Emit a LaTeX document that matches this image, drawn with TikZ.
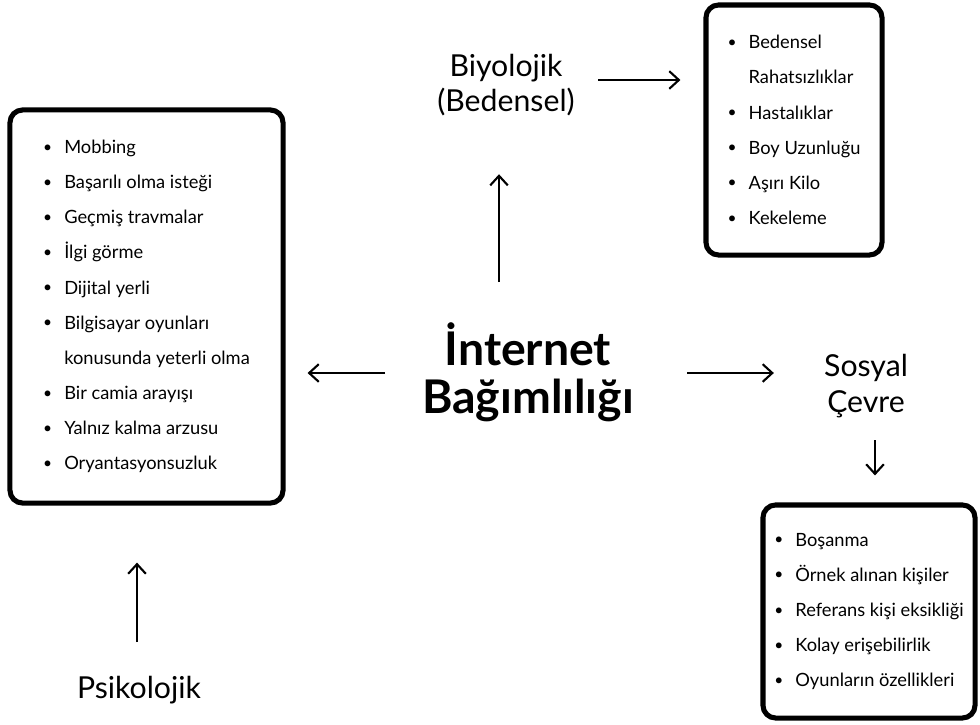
\documentclass[tikz,border=0pt]{standalone}
\usepackage{fontspec}
\setmainfont{Lato}
\usetikzlibrary{arrows.meta,positioning}
\tikzset{
    listbox/.style={
        draw,
        line width=3.6pt,
        rounded corners=9pt,
        align=left,
        font=\fontsize{13}{25}\selectfont,
        inner sep=0pt
    },
    headtext/.style={
        align=center,
        inner sep=0pt,
        font=\fontsize{21.5}{25}\selectfont
    },
    titletext/.style={
        align=center,
        inner sep=0pt,
        font=\fontsize{33}{34}\selectfont\bfseries
    },
    flow/.style={
        -{Straight Barb[length=2.4mm,width=4.4mm]},
        line width=1.5pt
    }
}
\newcommand{\itm}{\makebox[15pt][l]{\raisebox{0.08em}{\scalebox{0.85}{\textbullet}}}}
\newcommand{\cnt}{\hspace*{15pt}}
\begin{document}
\begin{tikzpicture}[x=0.025cm, y=-0.025cm]
        \useasboundingbox (0,0) rectangle (980,724);

        % center
        \node[titletext] (title) at (528,372) {İnternet\\Bağımlılığı};

        % groups
        \node[headtext] (bio) at (506,85) {Biyolojik\\(Bedensel)};
        \node[headtext] (soc) at (866,386) {Sosyal\\Çevre};
        \node[headtext] (psy) at (139,690) {Psikolojik};

        % lists
        \node[listbox, minimum width=6.825cm, minimum height=9.825cm] (pbox) at (146.5,306.5) {
            \itm Mobbing\\
            \itm Başarılı olma isteği\\
            \itm Geçmiş travmalar\\
            \itm İlgi görme\\
            \itm Dijital yerli\\
            \itm Bilgisayar oyunları\\
            \cnt konusunda yeterli olma\\
            \itm Bir camia arayışı\\
            \itm Yalnız kalma arzusu\\
            \itm Oryantasyonsuzluk
        };

        \node[listbox, minimum width=4.4cm, minimum height=6.25cm] (bbox) at (794,130) {
            \itm Bedensel\\
            \cnt Rahatsızlıklar\\
            \itm Hastalıklar\\
            \itm Boy Uzunluğu\\
            \itm Aşırı Kilo\\
            \itm Kekeleme
        };

        \node[listbox, minimum width=5.3cm, minimum height=5.325cm] (sbox) at (869,611.5) {
            \itm Boşanma\\
            \itm Örnek alınan kişiler\\
            \itm Referans kişi eksikliği\\
            \itm Kolay erişebilirlik\\
            \itm Oyunların özellikleri
        };

        % arrows
        \coordinate (lA) at (385,373);
        \coordinate (rA) at (687,373);
        \coordinate (bA) at (598,80);
        \coordinate (uA) at (499,282);
        \coordinate (dA) at (875,440);
        \coordinate (pA) at (137,642);

        \draw[flow, shorten >=0.55cm] (lA) -- (lA -| pbox.east);
        \draw[flow, shorten >=1.25cm] (rA) -- (rA -| soc.west);
        \draw[flow, shorten >=0.575cm] (bA) -- (bA -| bbox.west);
        \draw[flow, shorten >=1.45cm] (uA) -- (uA |- bio.south);
        \draw[flow, shorten >=0.675cm] (dA) -- (dA |- sbox.north);
        \draw[flow, shorten >=1.425cm] (pA) -- (pA |- pbox.south);
    \end{tikzpicture}
\end{document}
